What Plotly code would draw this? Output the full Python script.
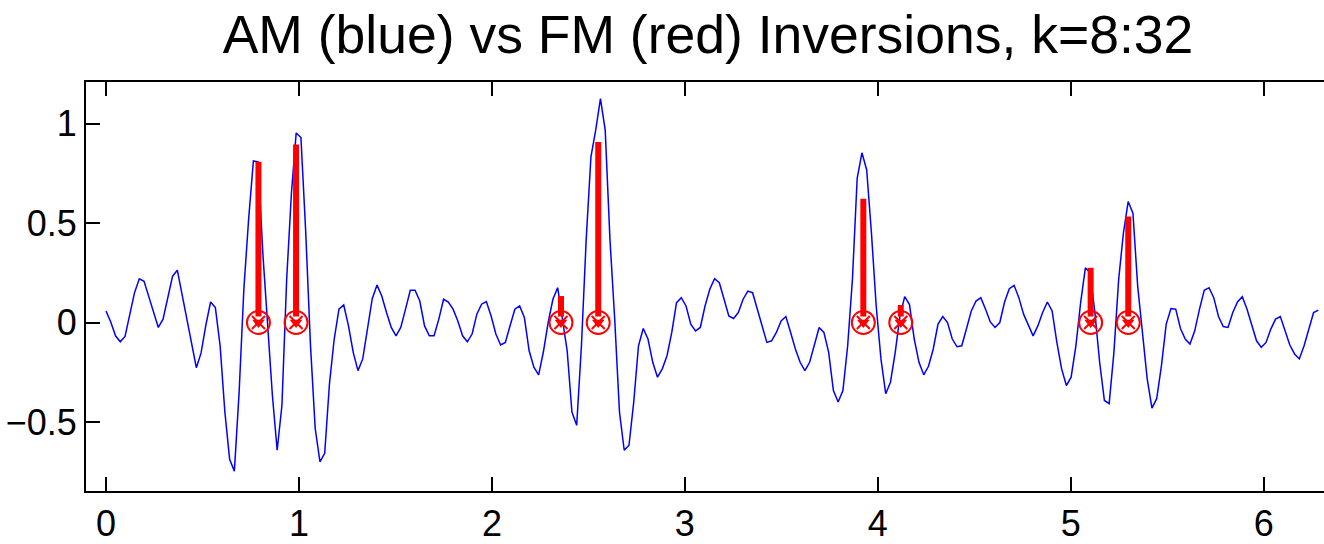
import numpy as np
import plotly.graph_objects as go

# ---- data ----
n_samples = 256
x_start, x_end = 0.0, 2 * np.pi
am_values = [
    0.058, 0.003, -0.067, -0.097, -0.070, 0.033, 0.150, 0.220, 0.207, 0.130,
    0.053, -0.025, 0.017, 0.133, 0.233, 0.263, 0.142, 0.018, -0.103, -0.227,
    -0.153, -0.013, 0.103, 0.075, -0.117, -0.450, -0.688, -0.747, -0.350, 0.170,
    0.520, 0.812, 0.808, 0.343, -0.012, -0.367, -0.642, -0.417, 0.217, 0.650,
    0.953, 0.930, 0.458, -0.110, -0.533, -0.700, -0.658, -0.308, -0.083, 0.067,
    0.088, -0.017, -0.150, -0.242, -0.183, -0.033, 0.120, 0.188, 0.133, 0.050,
    -0.025, -0.067, -0.025, 0.067, 0.162, 0.162, 0.108, -0.017, -0.067, -0.067,
    0.017, 0.117, 0.103, 0.067, 0.008, -0.067, -0.097, -0.058, 0.042, 0.092,
    0.105, 0.033, -0.058, -0.113, -0.100, -0.015, 0.067, 0.083, 0.025, -0.142,
    -0.225, -0.263, -0.147, 0.000, 0.117, 0.175, 0.017, -0.142, -0.450, -0.517,
    -0.117, 0.417, 0.833, 0.967, 1.125, 0.967, 0.417, 0.017, -0.450, -0.642,
    -0.617, -0.400, -0.117, -0.030, -0.083, -0.200, -0.275, -0.233, -0.167, -0.050,
    0.100, 0.125, 0.083, -0.008, -0.042, -0.025, 0.083, 0.167, 0.220, 0.200,
    0.117, 0.033, 0.020, 0.050, 0.117, 0.158, 0.150, 0.063, -0.020, -0.100,
    -0.092, -0.050, 0.008, 0.030, -0.050, -0.133, -0.200, -0.242, -0.200, -0.117,
    -0.025, -0.050, -0.150, -0.342, -0.400, -0.342, -0.117, 0.217, 0.725, 0.853,
    0.767, 0.450, 0.083, -0.183, -0.358, -0.300, -0.150, 0.033, 0.130, 0.090,
    -0.083, -0.200, -0.263, -0.220, -0.133, -0.008, 0.030, 0.000, -0.083, -0.122,
    -0.117, -0.030, 0.058, 0.108, 0.125, 0.067, 0.003, -0.025, 0.000, 0.103,
    0.170, 0.187, 0.125, 0.042, -0.017, -0.067, -0.017, 0.050, 0.103, 0.058,
    -0.100, -0.233, -0.317, -0.275, -0.117, 0.100, 0.275, 0.250, 0.050, -0.200,
    -0.392, -0.408, -0.150, 0.217, 0.450, 0.608, 0.550, 0.183, -0.050, -0.283,
    -0.430, -0.383, -0.217, -0.008, 0.070, 0.067, -0.030, -0.083, -0.108, -0.042,
    0.067, 0.162, 0.175, 0.125, 0.030, -0.020, -0.025, 0.050, 0.103, 0.130,
    0.067, -0.017, -0.092, -0.125, -0.100, -0.033, 0.017, 0.030, -0.042, -0.113,
    -0.158, -0.183, -0.117, -0.030, 0.050, 0.062,
]
fm_positions = [0.79, 0.985, 2.358, 2.551, 3.925, 4.119, 5.103, 5.298]
fm_heights = [0.808, 0.895, 0.133, 0.908, 0.622, 0.088, 0.275, 0.533]

x_ticks = [0, 1, 2, 3, 4, 5, 6]
y_ticks = [-0.5, 0, 0.5, 1]
title_text = "AM (blue) vs FM (red) Inversions, k=8:32"

am_x = np.linspace(x_start, x_end, n_samples)

# ---- figure ----
FONT = "Liberation Sans, Arial, Helvetica, sans-serif"
fig = go.Figure()

fig.add_trace(go.Scatter(
    x=am_x, y=am_values, mode="lines",
    line=dict(color="#0000FF", width=1.5), hoverinfo="skip", showlegend=False,
))

stem_x, stem_y = [], []
for xp, h in zip(fm_positions, fm_heights):
    stem_x += [xp, xp, None]
    stem_y += [h, 0.03, None]
fig.add_trace(go.Scatter(
    x=stem_x, y=stem_y, mode="lines",
    line=dict(color="#FF0000", width=6), hoverinfo="skip", showlegend=False,
))

zeros = [0] * len(fm_positions)
fig.add_trace(go.Scatter(
    x=fm_positions, y=zeros, mode="markers",
    marker=dict(symbol="triangle-down", size=11, color="#FF0000", line=dict(width=0)),
    hoverinfo="skip", showlegend=False,
))
fig.add_trace(go.Scatter(
    x=fm_positions, y=zeros, mode="markers",
    marker=dict(symbol="circle-open", size=23, color="#FF0000", line=dict(width=2, color="#FF0000")),
    hoverinfo="skip", showlegend=False,
))
fig.add_trace(go.Scatter(
    x=fm_positions, y=zeros, mode="markers",
    marker=dict(symbol="x-thin-open", size=13, color="#FF0000", line=dict(width=2, color="#FF0000")),
    hoverinfo="skip", showlegend=False,
))

axis_common = dict(
    showline=True, linecolor="black", linewidth=2,
    ticks="inside", ticklen=14, tickwidth=2, tickcolor="black",
    showgrid=False, zeroline=False,
    tickfont=dict(family=FONT, size=36, color="black"),
)

fig.update_layout(
    width=1324, height=544,
    margin=dict(l=86, r=0, t=82, b=51),
    paper_bgcolor="white", plot_bgcolor="white",
    title=dict(
        text=title_text, font=dict(family=FONT, size=53.5, color="black"),
        x=708 / 1324, xanchor="center", xref="container",
        y=1 - 34 / 544, yanchor="middle", yref="container",
    ),
    xaxis=dict(range=[-0.1037, 6.3125], tickvals=x_ticks, mirror="ticks", **axis_common),
    yaxis=dict(range=[-0.847, 1.209], tickvals=y_ticks, **axis_common),
)

fig.write_html("out.html")
